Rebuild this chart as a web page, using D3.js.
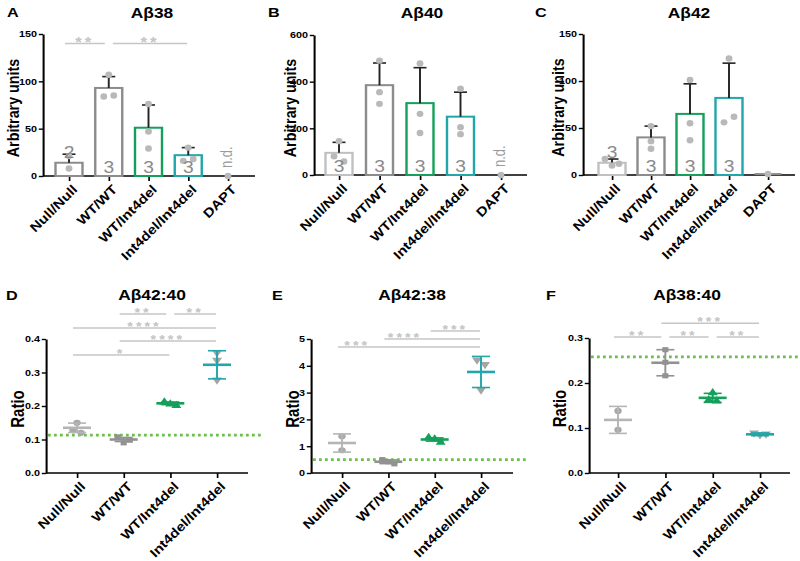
<!DOCTYPE html>
<html><head><meta charset="utf-8">
<script src="https://cdn.jsdelivr.net/npm/d3@7"></script>
<style>
body{margin:0;background:#fff}
text{font-family:"Liberation Sans",Arial,sans-serif}
</style>
</head><body>
<svg id="c" width="800" height="561"></svg>
<script>
// ---------- DATA ----------
const categories = ["Null/Null","WT/WT","WT/Int4del","Int4del/Int4del","DAPT"];
const ratioCategories = ["Null/Null","WT/WT","WT/Int4del","Int4del/Int4del"];

const ab38Mean = [14, 93, 51, 22, 0];
const ab38SD = [9, 12, 24, 8, 0];
const ab38Points = [[21, 8], [107, 84, 85], [76, 47, 29], [30, 16, 18], [0]];
const ab38N = ["2", "3", "3", "3", "n.d."];
const ab38Ticks = [0, 50, 100, 150];
const ab38Sig = [[0, 1, "**", 140], [1, 3, "**", 140]];

const ab40Mean = [95, 385, 308, 250, 0];
const ab40SD = [45, 95, 152, 105, 0];
const ab40Points = [[145, 80, 58], [490, 355, 305], [478, 262, 180], [370, 205, 175], [0]];
const ab40N = ["3", "3", "3", "3", "n.d."];
const ab40Ticks = [0, 200, 400, 600];

const ab42Mean = [13, 40, 65, 82, 1];
const ab42SD = [4, 12, 32, 37, 0];
const ab42Points = [[17, 10, 12], [52, 28, 36], [101, 55, 37], [124, 56, 62], [1]];
const ab42N = ["3", "3", "3", "3", ""];
const ab42Ticks = [0, 50, 100, 150];

const r4240Mean = [0.135, 0.100, 0.208, 0.323];
const r4240SD = [0.014, 0.006, 0.004, 0.042];
const r4240Points = [[0.150, 0.128, 0.120], [0.108, 0.090, 0.098], [0.212, 0.206, 0.201], [0.359, 0.337, 0.278]];
const r4240Ref = 0.113;
const r4240Ticks = [0, 0.1, 0.2, 0.3, 0.4];
const r4240Sig = [[1, 2, "**", 0.475], [2, 3, "**", 0.475], [0, 3, "****", 0.433], [1, 3, "****", 0.394], [0, 2, "*", 0.352]];

const r4238Mean = [1.12, 0.42, 1.25, 3.77];
const r4238SD = [0.34, 0.07, 0.06, 0.58];
const r4238Points = [[1.37, 0.85], [0.50, 0.42, 0.34], [1.32, 1.27, 1.14], [4.22, 4.05, 3.10]];
const r4238Ref = 0.5;
const r4238Ticks = [0, 1, 2, 3, 4, 5];
const r4238Sig = [[0, 3, "***", 4.70, 0.33], [1, 3, "****", 5.0, 1.36], [2, 3, "***", 5.30]];

const r3840Mean = [0.118, 0.245, 0.167, 0.086];
const r3840SD = [0.030, 0.029, 0.010, 0.003];
const r3840Points = [[0.138, 0.096], [0.274, 0.246, 0.216], [0.178, 0.162, 0.160], [0.089, 0.085, 0.087]];
const r3840Ref = 0.258;
const r3840Ticks = [0, 0.1, 0.2, 0.3];
const r3840Sig = [[0, 1, "**", 0.302], [1, 2, "**", 0.302], [2, 3, "**", 0.302], [1, 3, "***", 0.333]];

// ---------- STYLE ----------
const SX = 1.2; // horizontal stretch of the original figure
const X = v => v / SX;
const GRAY = "#8c8c8c", LGRAY = "#c0c0c0", GREEN = "#14a05a", TEAL = "#21a6aa", PT = "#b9b9b9";
const SIG = "#c6c6c6";

const svg = d3.select("#c");
svg.append("rect").attr("width", 800).attr("height", 561).attr("fill", "#fff");
const root = svg.append("g").attr("transform", `scale(${SX},1)`);
const labelLayer = svg.append("g");

function spread(vals, y, near, w2, w3) {
  const n = vals.length, parent = d3.range(n);
  const find = i => parent[i] === i ? i : (parent[i] = find(parent[i]));
  for (let i = 0; i < n; i++) for (let j = i + 1; j < n; j++)
    if (Math.abs(y(vals[i]) - y(vals[j])) < near) parent[find(i)] = find(j);
  const groups = d3.group(d3.range(n), i => find(i));
  const off = new Array(n).fill(0);
  for (const [, idx] of groups) {
    if (idx.length === 2) { off[idx[0]] = -w2; off[idx[1]] = w2; }
    else if (idx.length >= 3) idx.forEach((k, m) => off[k] = (m - (idx.length - 1) / 2) * w3);
  }
  return off;
}

function frame(g, cfg, cats, y) {
  g.append("text").attr("x", X(cfg.letterX)).attr("y", cfg.letterY).attr("font-size", 13.5).attr("font-weight", "bold").text(cfg.letter);
  g.append("text").attr("x", X(cfg.titleX)).attr("y", cfg.titleY).attr("text-anchor", "middle").attr("font-size", 14.5).attr("font-weight", "bold").text(cfg.title);
  const ya = g.append("g").attr("transform", `translate(${X(cfg.axisX)},0)`)
    .call(d3.axisLeft(y).tickValues(cfg.ticks).tickSize(3.5).tickSizeOuter(0).tickPadding(1.5).tickFormat(cfg.fmt));
  ya.select(".domain").attr("stroke-width", 1.7);
  ya.selectAll(".tick line").attr("stroke-width", 1.4);
  ya.selectAll(".tick text").attr("font-size", 9).attr("font-weight", "bold").attr("font-family", "Liberation Sans,Arial,sans-serif").attr("fill", "#000");
  const ly = (cfg.yb + cfg.yt) / 2 + cfg.ylabelShift;
  g.append("text").attr("transform", `translate(${X(cfg.ylabelX)},${ly}) rotate(-90)`)
    .attr("text-anchor", "middle").attr("dy", "0.35em").attr("font-size", cfg.ylabelSize).attr("font-weight", "bold").text(cfg.ylabel);
  const x = d3.scalePoint().domain(cats).range([X(cfg.cat0), X(cfg.catN)]);
  const xa = g.append("g").attr("transform", `translate(0,${cfg.yb})`)
    .call(d3.axisBottom(x).tickSize(5).tickFormat(""));
  xa.select(".domain").remove();
  xa.selectAll(".tick line").attr("stroke-width", 1.4);
  g.append("line").attr("x1", X(cfg.axisX)).attr("x2", X(cfg.axisEnd)).attr("y1", cfg.yb).attr("y2", cfg.yb)
    .attr("stroke", "#000").attr("stroke-width", 1.7);
  labelLayer.append("g").selectAll("text").data(cats).join("text")
    .attr("transform", d => `translate(${x(d) * SX + 6},${cfg.yb + 11}) rotate(-45) scale(1.15,1)`)
    .attr("text-anchor", "end").attr("dy", "0.35em").attr("font-size", 13).attr("font-weight", "bold").text(d => d);
  return x;
}

function sigBars(g, sig, x, y, cats, fs) {
  sig.forEach(s => {
    const [i, j, stars, lvl, at] = s;
    const endsAt = sig.some(t => t !== s && t[3] === lvl && t[1] === i);
    const startsAt = sig.some(t => t !== s && t[3] === lvl && t[0] === j);
    const x1 = x(cats[i]) + X(endsAt ? 4 : -4);
    const x2 = x(cats[j]) + X(startsAt ? -4 : -1);
    const yy = y(lvl);
    g.append("line").attr("x1", x1).attr("x2", x2).attr("y1", yy).attr("y2", yy).attr("stroke", SIG).attr("stroke-width", 1.5);
    const sx = at === undefined ? (x1 + x2) / 2 : x(cats[0]) + at * (x(cats[1]) - x(cats[0]));
    g.append("text").attr("x", sx).attr("y", yy + fs * 0.27).attr("text-anchor", "middle").attr("font-size", fs)
      .attr("font-weight", "bold").attr("letter-spacing", 2.5).attr("fill", "#c4c4c4").text(stars);
  });
}

function barPanel(cfg, mean, sd, pts, nlab, colors, sig) {
  const g = root.append("g");
  const y = d3.scaleLinear().domain([0, cfg.ymax]).range([cfg.yb, cfg.yt]);
  const x = frame(g, cfg, categories, y);
  const bw = X(27);
  categories.forEach((c, i) => {
    const cx = x(c);
    if (mean[i] > 0 && i < 4)
      g.append("rect").attr("x", cx - bw / 2).attr("y", y(mean[i])).attr("width", bw).attr("height", cfg.yb - y(mean[i]))
        .attr("fill", "#fff").attr("stroke", colors[i]).attr("stroke-width", 2);
    if (i === 4 && mean[i] > 0)
      g.append("line").attr("x1", cx - bw / 2).attr("x2", cx + bw / 2).attr("y1", y(mean[i])).attr("y2", y(mean[i]))
        .attr("stroke", colors[i]).attr("stroke-width", 2);
    if (sd[i] > 0) {
      const top = y(mean[i] + sd[i]);
      g.append("line").attr("x1", cx).attr("x2", cx).attr("y1", y(mean[i])).attr("y2", top).attr("stroke", "#222").attr("stroke-width", 1.6);
      g.append("line").attr("x1", cx - X(6.5)).attr("x2", cx + X(6.5)).attr("y1", top).attr("y2", top).attr("stroke", "#222").attr("stroke-width", 1.6);
    }
    const off = spread(pts[i], y, 7, X(5), X(7));
    pts[i].forEach((v, k) => {
      g.append("ellipse").attr("cx", cx + off[k]).attr("cy", y(v)).attr("rx", X(3.4)).attr("ry", 3.2).attr("fill", PT);
    });
    if (nlab[i] === "n.d.") {
      g.append("text").attr("transform", `translate(${cx + X(4)},${cfg.yb - 8}) rotate(-90)`)
        .attr("font-size", 13).attr("fill", "#9a9a9a").text("n.d.");
    } else if (nlab[i]) {
      const hpx = cfg.yb - y(mean[i]);
      const by = hpx < 18 ? y(mean[i]) - 5 : cfg.yb - 3;
      g.append("text").attr("x", cx).attr("y", by).attr("text-anchor", "middle").attr("font-size", 16)
        .attr("fill", "#8a8a8a").text(nlab[i]);
    }
  });
  if (sig) sigBars(g, sig, x, y, categories, 14);
}

const shapes = [d3.symbolCircle, d3.symbolSquare, d3.symbolTriangle, d3.symbolTriangle];
function scatterPanel(cfg, mean, sd, pts, ref, sig) {
  const g = root.append("g");
  const y = d3.scaleLinear().domain([0, cfg.ymax]).range([cfg.yb, cfg.yt]);
  const x = frame(g, cfg, ratioCategories, y);
  const lineCol = ["#b5b5b5", "#929292", GREEN, TEAL];
  const ptCol = ["#a8a8a8", "#929292", GREEN, "#a5a5a5"];
  g.append("line").attr("x1", X(cfg.axisX + 2)).attr("x2", X(cfg.refEnd)).attr("y1", y(ref)).attr("y2", y(ref))
    .attr("stroke", "#6cc04a").attr("stroke-width", 2.6).attr("stroke-dasharray", "2.3,2.7");
  ratioCategories.forEach((c, i) => {
    const cx = x(c);
    const off = spread(pts[i], y, 6, X(4), X(6));
    pts[i].forEach((v, k) => {
      g.append("path").attr("d", d3.symbol().type(shapes[i]).size(i === 1 ? 26 : 30)())
        .attr("transform", `translate(${cx + off[k]},${y(v)}) scale(1,${i === 3 ? -1 : 1})`)
        .attr("fill", ptCol[i]);
    });
    const lo = y(mean[i] - sd[i]), hi = y(mean[i] + sd[i]);
    g.append("line").attr("x1", cx).attr("x2", cx).attr("y1", lo).attr("y2", hi).attr("stroke", lineCol[i]).attr("stroke-width", 1.6);
    [lo, hi].forEach(yy => g.append("line").attr("x1", cx - X(9)).attr("x2", cx + X(9)).attr("y1", yy).attr("y2", yy)
      .attr("stroke", lineCol[i]).attr("stroke-width", 1.6));
    g.append("line").attr("x1", cx - X(14)).attr("x2", cx + X(14)).attr("y1", y(mean[i])).attr("y2", y(mean[i]))
      .attr("stroke", lineCol[i]).attr("stroke-width", 2.6);
  });
  if (sig) sigBars(g, sig, x, y, ratioCategories, 12);
}

const f1 = d3.format("d"), f2 = d3.format(".1f");
barPanel({letter: "A", title: "Aβ38", letterX: 7, letterY: 17, titleX: 152, titleY: 18, axisX: 43, axisEnd: 255, cat0: 69, catN: 228,
  yb: 176, yt: 34, ymax: 150, ticks: ab38Ticks, fmt: f1, ylabelX: 13, ylabel: "Arbitrary units", ylabelSize: 14.3, ylabelShift: 3},
  ab38Mean, ab38SD, ab38Points, ab38N, [GRAY, GRAY, GREEN, TEAL, GRAY], ab38Sig);
barPanel({letter: "B", title: "Aβ40", letterX: 268, letterY: 17, titleX: 422, titleY: 18, axisX: 314, axisEnd: 527, cat0: 339, catN: 501,
  yb: 175, yt: 35, ymax: 600, ticks: ab40Ticks, fmt: f1, ylabelX: 290, ylabel: "Arbitrary units", ylabelSize: 14.3, ylabelShift: 3},
  ab40Mean, ab40SD, ab40Points, ab40N, [LGRAY, GRAY, GREEN, TEAL, GRAY], null);
barPanel({letter: "C", title: "Aβ42", letterX: 535, letterY: 17, titleX: 689, titleY: 18, axisX: 583, axisEnd: 795, cat0: 612, catN: 768,
  yb: 175, yt: 34, ymax: 150, ticks: ab42Ticks, fmt: f1, ylabelX: 558, ylabel: "Arbitrary units", ylabelSize: 14.3, ylabelShift: 3},
  ab42Mean, ab42SD, ab42Points, ab42N, [LGRAY, GRAY, GREEN, TEAL, GRAY], null);

scatterPanel({letter: "D", title: "Aβ42:40", letterX: 6, letterY: 300, titleX: 152, titleY: 300, axisX: 46, axisEnd: 248, refEnd: 262, cat0: 77, catN: 217,
  yb: 473, yt: 339, ymax: 0.4, ticks: r4240Ticks, fmt: f2, ylabelX: 18, ylabel: "Ratio", ylabelSize: 15, ylabelShift: 3},
  r4240Mean, r4240SD, r4240Points, r4240Ref, r4240Sig);
scatterPanel({letter: "E", title: "Aβ42:38", letterX: 272, letterY: 300, titleX: 412, titleY: 300, axisX: 311, axisEnd: 513, refEnd: 528, cat0: 342, catN: 481,
  yb: 473, yt: 339, ymax: 5, ticks: r4238Ticks, fmt: f1, ylabelX: 293, ylabel: "Ratio", ylabelSize: 15, ylabelShift: 3},
  r4238Mean, r4238SD, r4238Points, r4238Ref, r4238Sig);
scatterPanel({letter: "F", title: "Aβ38:40", letterX: 546, letterY: 300, titleX: 687, titleY: 300, axisX: 589, axisEnd: 790, refEnd: 798, cat0: 618, catN: 760,
  yb: 473, yt: 338, ymax: 0.3, ticks: r3840Ticks, fmt: f2, ylabelX: 560, ylabel: "Ratio", ylabelSize: 15, ylabelShift: 3},
  r3840Mean, r3840SD, r3840Points, r3840Ref, r3840Sig);
</script>
</body></html>
